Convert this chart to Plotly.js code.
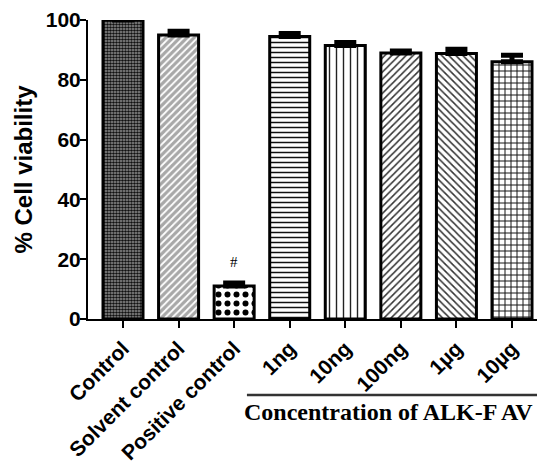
<!DOCTYPE html>
<html><head><meta charset="utf-8">
<script src="https://cdn.plot.ly/plotly-3.0.1.min.js"></script>
<style>html,body{margin:0;padding:0;background:#fff}#chart{width:539px;height:467px}</style>
</head><body><div id="chart"></div>
<script>
const categories = ["Control","Solvent control","Positive control","1ng","10ng","100ng","1µg","10µg"];
const viability = [100, 95, 11, 94.5, 91.5, 89, 88.8, 86];
const sem = [0, 1.2, 1.0, 1.0, 1.0, 0.6, 1.4, 2.2];
const patternShapes = [".", "/", ".", "-", "|", "/", "\\", "+"];
const patternSizes = [3, 5, 9, 5, 7, 5, 5, 6];
const patternSolid = [0.6, 0.35, 0.35, 0.3, 0.2, 0.3, 0.3, 0.3];
const patternFg = ["#111", "#fff", "#000", "#111", "#222", "#333", "#333", "#111"];
const patternBg = ["#999", "#a8a8a8", "#fff", "#fff", "#fff", "#fff", "#fff", "#fff"];
const tickVals = [0, 20, 40, 60, 80, 100];
const groupLabel = "Concentration of ALK-F AV";
const markText = "#";

const xs = categories.map((_, i) => i);
const trace = {
  type: "bar",
  x: xs,
  y: viability,
  width: 0.72,
  marker: {
    color: "#fff",
    line: {color: "#000", width: 3},
    pattern: {shape: patternShapes, size: patternSizes, solidity: patternSolid, fgcolor: patternFg, bgcolor: patternBg, fillmode: "replace"}
  },
  error_y: {type: "data", array: sem, arrayminus: sem.map(() => 0), symmetric: false, color: "#000", thickness: 5, width: 11},
  cliponaxis: false
};
const layout = {
  width: 539, height: 467,
  margin: {l: 88, r: 2, t: 20, b: 148},
  paper_bgcolor: "#fff", plot_bgcolor: "#fff",
  showlegend: false,
  font: {family: "Liberation Sans, Arial, sans-serif", color: "#000"},
  xaxis: {
    range: [-0.63, 7.45], tickmode: "array", tickvals: xs, ticktext: categories,
    tickangle: -45, ticks: "outside", ticklen: 7, tickwidth: 2, tickcolor: "#000",
    showline: true, linewidth: 2, linecolor: "#000", showgrid: false, zeroline: false,
    tickfont: {size: 21, family: "Liberation Sans, Arial, sans-serif", weight: "bold"}
  },
  yaxis: {
    range: [0, 100], tickmode: "array", tickvals: tickVals,
    ticks: "outside", ticklen: 6, tickwidth: 2, tickcolor: "#000",
    showline: true, linewidth: 2, linecolor: "#000", showgrid: false, zeroline: false,
    ticklabelstandoff: -5,
    tickfont: {size: 21, family: "Liberation Sans, Arial, sans-serif", weight: "bold"},
    title: {text: "% Cell viability", font: {size: 24, family: "Liberation Sans, Arial, sans-serif", weight: "bold"}, standoff: 6}
  },
  shapes: [{type: "line", xref: "x", yref: "paper", x0: 2.23, x1: 7.5, y0: -0.254, y1: -0.254, line: {color: "#333", width: 2.5}}],
  annotations: [
    {x: 2, y: 19, xref: "x", yref: "y", text: markText, showarrow: false, font: {family: "Liberation Serif, Times New Roman, serif", size: 15, color: "#000"}},
    {x: 4.78, y: -0.31, xref: "x", yref: "paper", yanchor: "middle", xanchor: "center", text: groupLabel, showarrow: false, font: {family: "Liberation Serif, Times New Roman, serif", size: 24, weight: "bold", color: "#000"}}
  ]
};
Plotly.newPlot("chart", [trace], layout, {displayModeBar: false, staticPlot: true});
</script></body></html>
